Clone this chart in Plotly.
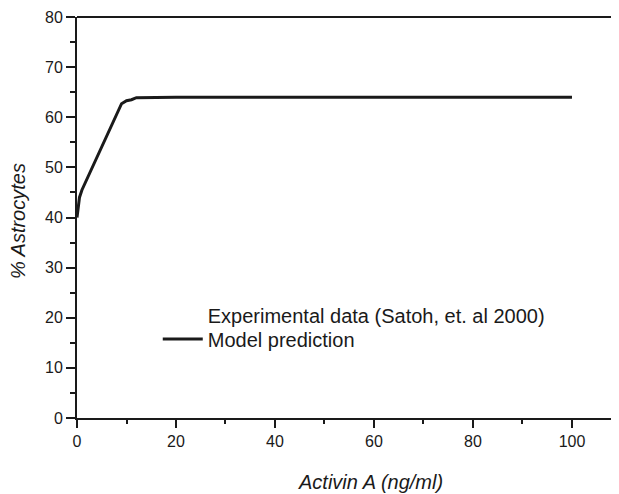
import plotly.graph_objects as go

# Activin A concentration (ng/ml) and model-predicted % astrocytes
activin = [0, 0.5, 1, 5, 9, 10, 11, 12, 20, 50, 100]
astro_pct = [40, 44, 45.5, 54, 62.7, 63.3, 63.5, 63.9, 64, 64, 64]

x_ticks = [0, 20, 40, 60, 80, 100]
y_ticks = [0, 10, 20, 30, 40, 50, 60, 70, 80]

font = "Liberation Sans, Arial, sans-serif"
ink = "#1a1a1a"

fig = go.Figure()

# legend entry with no visible symbol, as in the original figure
fig.add_trace(go.Scatter(
    x=[None], y=[None], mode="markers",
    marker=dict(color="rgba(0,0,0,0)", size=1),
    name="Experimental data (Satoh, et. al 2000)", legend="legend"))

fig.add_trace(go.Scatter(
    x=activin, y=astro_pct, mode="lines",
    line=dict(color=ink, width=3),
    name="Model prediction", legend="legend2"))

axis_common = dict(
    showgrid=False, zeroline=False, automargin=False,
    showline=True, linecolor=ink, linewidth=2,
    ticks="outside", tickwidth=2, tickcolor=ink,
    tickfont=dict(family=font, size=16, color=ink),
)

fig.update_xaxes(
    range=[0, 109.5], tickvals=x_ticks, ticklen=8,
    minor=dict(tickvals=[10, 30, 50, 70, 90], ticks="outside", ticklen=4, tickwidth=2, tickcolor=ink),
    **axis_common)

fig.update_yaxes(
    range=[0, 80], tickvals=y_ticks, ticklen=9,
    minor=dict(tickvals=[5, 15, 25, 35, 45, 55, 65, 75], ticks="outside", ticklen=5, tickwidth=2, tickcolor=ink),
    **axis_common)

# axis titles as annotations so they sit where the original has them
fig.add_annotation(text="<i>Activin A (ng/ml)</i>", xref="paper", yref="paper",
                   x=0.5424, y=-0.16, xanchor="center", yanchor="middle", showarrow=False,
                   font=dict(family=font, size=20, color=ink))
fig.add_annotation(text="<i>% Astrocytes</i>", xref="paper", yref="paper",
                   x=-0.109, y=0.491, xanchor="center", yanchor="middle", showarrow=False,
                   textangle=-90, font=dict(family=font, size=20, color=ink))

# top border line without ticks
fig.add_shape(type="line", xref="paper", yref="paper", x0=0, x1=1, y0=1, y1=1,
              line=dict(color=ink, width=2))

leg = dict(xanchor="left", yanchor="middle", bgcolor="rgba(0,0,0,0)",
           font=dict(family=font, size=20, color=ink), itemwidth=40)

fig.update_layout(
    width=611, height=486,
    margin=dict(l=69, r=0, t=9, b=76),
    plot_bgcolor="white", paper_bgcolor="white",
    showlegend=True,
    legend=dict(x=0.149, y=0.257, **leg),
    legend2=dict(x=0.149, y=0.197, **leg),
)

fig.write_html("out.html")
